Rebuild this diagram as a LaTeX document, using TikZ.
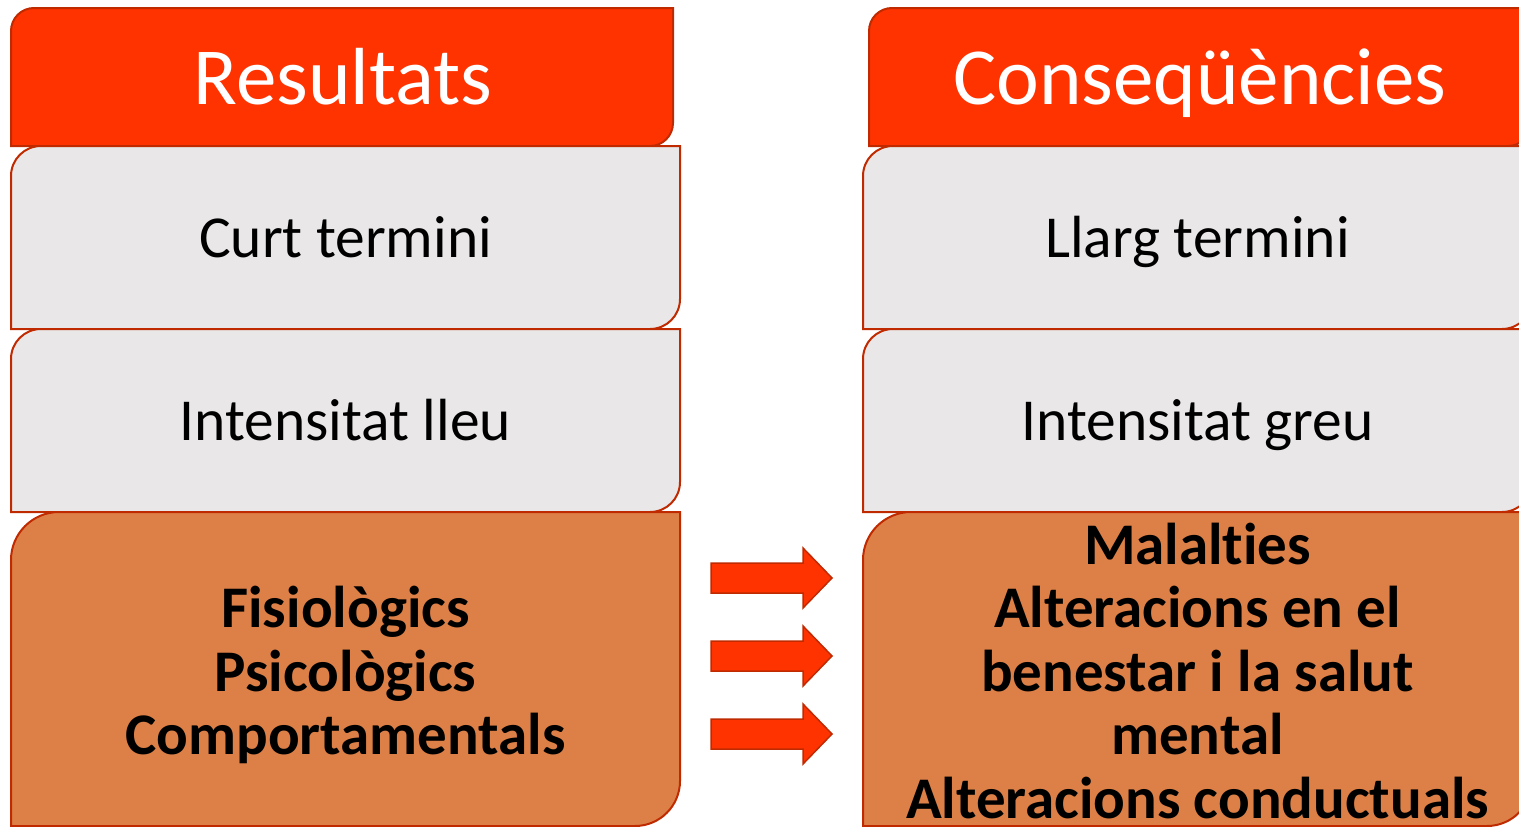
\documentclass[tikz,border=0pt]{standalone}
\usepackage{fontspec}
\setmainfont{Carlito}[Ligatures=NoCommon]
\definecolor{hdrfill}{HTML}{FF3300}
\definecolor{edgecol}{HTML}{C02A00}
\definecolor{grayfill}{HTML}{E9E7E8}
\definecolor{orgfill}{HTML}{DD8047}
\newcommand{\diagbox}[7]{%
  \path[#7] (#1,#4) -- (#1,{#2+#5}) .. controls (#1,{#2+0.448*#5}) and ({#1+0.448*#5},#2) .. ({#1+#5},#2)
    -- (#3,#2) -- (#3,{#4-#6}) .. controls (#3,{#4-0.448*#6}) and ({#3-0.448*#6},#4) .. ({#3-#6},#4) -- cycle;}
\tikzset{
  hdrbox/.style={fill=hdrfill,draw=edgecol,line width=2pt},
  graybox/.style={fill=grayfill,draw=edgecol,line width=2pt},
  orgbox/.style={fill=orgfill,draw=edgecol,line width=2pt},
  blockarrow/.style={fill=hdrfill,draw=edgecol,line width=1.5pt,line join=miter},
  hdrtext/.style={anchor=base,inner sep=0pt,text=white,font=\fontsize{81}{90}\selectfont},
  graytext/.style={anchor=base,inner sep=0pt,text=black,font=\fontsize{59.5}{64}\selectfont},
  orgtext/.style={anchor=center,inner sep=0pt,align=center,text=black,font=\fontsize{59}{63.5}\selectfont\bfseries},
}
\begin{document}
\begin{tikzpicture}[x=1pt,y=-1pt]
\useasboundingbox (0,0) rectangle (1519,827);
\clip (0,0) rectangle (1519,827);
% left column
\diagbox{11}{8}{673}{146}{23}{23}{hdrbox}
\diagbox{11}{146}{680}{329}{30}{30}{graybox}
\diagbox{11}{329}{680}{512}{30}{30}{graybox}
\diagbox{11}{512}{680}{826}{48}{45}{orgbox}
% right column
\diagbox{869}{8}{1531}{146}{23}{23}{hdrbox}
\diagbox{863}{146}{1532}{329}{30}{30}{graybox}
\diagbox{863}{329}{1532}{512}{30}{30}{graybox}
\diagbox{863}{512}{1532}{826}{48}{45}{orgbox}
% texts
\node[hdrtext] (res) at (343,104) {Resultats};
\node[hdrtext] (cons) at (1200,104) {Conseqüències};
\node[graytext] (curt) at (345.5,257) {Curt termini};
\node[graytext] (llarg) at (1197.5,257) {Llarg termini};
\node[graytext] (lleu) at (345.5,440) {Intensitat lleu};
\node[graytext] (greu) at (1197.5,440) {Intensitat greu};
\node[orgtext] (fis) at (345.5,675) {Fisiològics\\Psicològics\\Comportamentals};
\node[orgtext] (mal) at (1197.5,671) {Malalties\\Alteracions en el\\benestar i la salut\\mental\\Alteracions conductuals};
% block arrows
\foreach \yc/\nm in {578/a1,656/a2,734/a3}{
  \coordinate (\nm) at (832,\yc);
  \path[blockarrow] (711,{\yc-15}) -- (803,{\yc-15}) -- (803,{\yc-30}) -- (\nm) -- (803,{\yc+30}) -- (803,{\yc+15}) -- (711,{\yc+15}) -- cycle;
}
\end{tikzpicture}
\end{document}
